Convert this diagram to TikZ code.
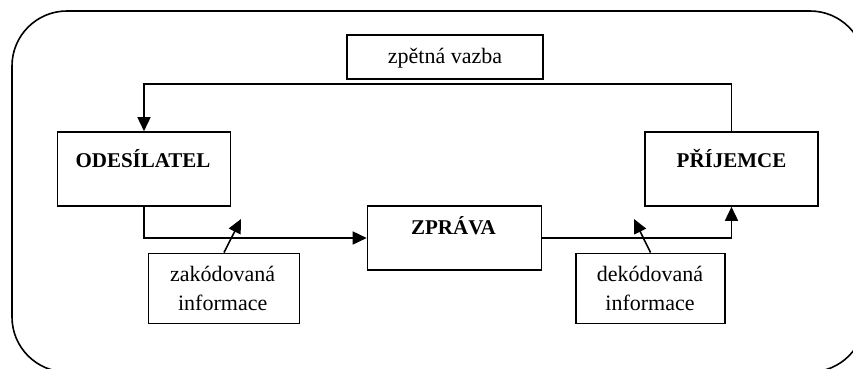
\documentclass[tikz,border=0pt]{standalone}
\usepackage{fontspec}
\setmainfont{Liberation Serif}
\usetikzlibrary{arrows.meta}
\begin{document}
\begin{tikzpicture}[x=1pt,y=-1pt,
  box/.style={draw, line width=1.6pt, inner sep=0pt, rectangle},
  reg/.style={font=\fontsize{22}{28}\selectfont, inner sep=0pt, anchor=base},
  bld/.style={font=\fontsize{21}{26}\selectfont\bfseries, inner sep=0pt, anchor=base},
  conn/.style={line width=1.6pt},
  arr/.style={conn, -{Triangle[length=14pt,width=13pt]}}]
\useasboundingbox (0,0) rectangle (853,369);
\clip (0,0) rectangle (853,369);
% outer frame
\draw[line width=1.6pt, rounded corners=55pt] (12,11) rectangle (865,372);
% boxes
\node[box, minimum width=196pt, minimum height=44pt] (fb) at (445,57) {};
\node[box, minimum width=173pt, minimum height=74pt] (ode) at (144,169) {};
\node[box, minimum width=173pt, minimum height=74pt] (prij) at (731.5,169) {};
\node[box, minimum width=174pt, minimum height=64pt] (zpr) at (454.5,238) {};
\node[box, minimum width=151pt, minimum height=70pt] (zak) at (224,288.3) {};
\node[box, minimum width=149pt, minimum height=70pt] (dek) at (650.5,288.3) {};
% texts
\node[reg] (fbt) at (445,63.3) {zpětná vazba};
\node[bld] (odet) at (143,167.3) {ODESÍLATEL};
\node[bld] (prijt) at (731.5,167.3) {PŘÍJEMCE};
\node[bld] (zprt) at (453.5,234.3) {ZPRÁVA};
\node[reg] (zakt1) at (222.7,281.7) {zakódovaná};
\node[reg] (zakt2) at (222.7,310) {informace};
\node[reg] (dekt1) at (650,281.7) {dekódovaná};
\node[reg] (dekt2) at (650,310) {informace};
% connectors
\draw[arr] (prij.north) -- ++(0,-47) -| (ode.north);
\draw[arr] (ode.south) |- (zpr.west);
\draw[arr] (zpr.east) -| (prij.south);
\coordinate (zaktip) at (241,219);
\coordinate (dektip) at (634,219);
\draw[arr] (zak.north) -- (zaktip);
\draw[arr] (dek.north) -- (dektip);
\end{tikzpicture}
\end{document}
